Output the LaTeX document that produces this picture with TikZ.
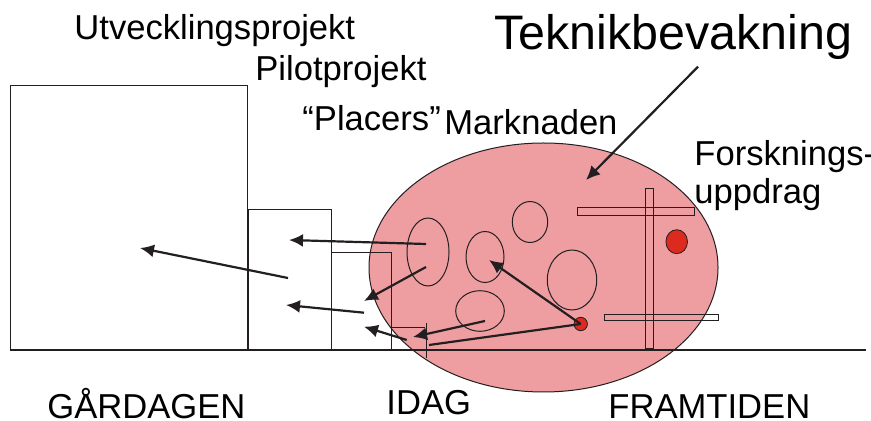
\documentclass[tikz,border=0pt]{standalone}
\usepackage{fontspec}
\setmainfont{Liberation Sans}
\usetikzlibrary{arrows.meta}
\definecolor{pinkfill}{HTML}{EE9EA1}
\definecolor{dotred}{HTML}{DC2A1E}
\definecolor{edge}{HTML}{231F20}
\tikzset{
  thin line/.style={draw=edge, line width=0.5pt},
  bar/.style={draw=edge, line width=0.5pt},
  arr/.style={draw=edge, line width=1.1pt, -{Latex[length=7pt,width=6.5pt]}},
  plain/.style={draw=edge, line width=1.1pt},
  lab/.style={inner sep=0pt, anchor=base west, font=\fontsize{17.3}{20}\selectfont},
  big/.style={inner sep=0pt, anchor=base west, font=\fontsize{24.2}{28}\selectfont},
}
\begin{document}
\begin{tikzpicture}[x=0.5pt,y=-0.5pt]
\useasboundingbox (0,0) rectangle (871,421);
% pink market ellipse
\path[fill=pinkfill, draw=edge, line width=0.5pt] (543.5,267.5) ellipse [x radius=174.5, y radius=124.5];
% boxes
\draw[thin line] (10,350) -- (10,86) -- (247,86) -- (247,350);
\draw[thin line] (248,350) -- (248,210) -- (331,210) -- (331,350);
\draw[thin line] (331.5,350) -- (331.5,253) -- (391,253) -- (391,350);
\draw[thin line] (391,328) -- (425,328);
\draw[thin line] (426,323) -- (426,358);
% baseline
\draw[draw=edge, line width=0.8pt] (10,350) -- (866,350);
% small ellipses
\draw[thin line] (428,252) ellipse [x radius=21, y radius=34];
\draw[thin line] (485,257) ellipse [x radius=19, y radius=25.5];
\draw[thin line] (530,222) ellipse [x radius=17.7, y radius=20.5];
\draw[thin line] (572,280) ellipse [x radius=24.7, y radius=30];
\draw[thin line] (480,311) ellipse [x radius=24.3, y radius=20.3];
% bars
\draw[bar] (577.3,207.7) rectangle (694.3,215.7);
\draw[bar] (604.3,315) rectangle (718.3,321);
\draw[bar] (645,188.3) rectangle (653.3,348.3);
% red dots
\path[fill=dotred, draw=edge, line width=0.4pt] (580.7,324) circle [radius=6.7];
\path[fill=dotred, draw=edge, line width=0.4pt] (676.7,241.7) ellipse [x radius=10.8, y radius=12];
% coordinates
\coordinate (a1s) at (288,278);  \coordinate (a1e) at (140,248);
\coordinate (a2s) at (426,244);  \coordinate (a2e) at (289,240);
\coordinate (a3s) at (426,267);  \coordinate (a3e) at (364,301);
\coordinate (a4s) at (364,312.7);\coordinate (a4e) at (286,305);
\coordinate (a5s) at (406.7,340);\coordinate (a5e) at (364,326.7);
\coordinate (a6s) at (485,321);  \coordinate (a6e) at (413,337);
\coordinate (dot) at (580.7,324);
\coordinate (l7e) at (429,345);
\coordinate (a8e) at (489,260);
\coordinate (tks) at (698,66.7); \coordinate (tke) at (586,180);
% arrows
\draw[arr] (a1s) -- (a1e);
\draw[arr] (a2s) -- (a2e);
\draw[arr] (a3s) -- (a3e);
\draw[arr] (a4s) -- (a4e);
\draw[arr] (a5s) -- (a5e);
\draw[arr] (a6s) -- (a6e);
\draw[plain] (dot) -- (l7e);
\draw[arr] (dot) -- (a8e);
\draw[arr] (tks) -- (tke);
% labels
\node[lab] (utv) at (74,40) {Utvecklingsprojekt};
\node[lab] (pil) at (255,81) {Pilotprojekt};
\node[lab] (pla) at (302,131) {“Placers”};
\node[lab] (mar) at (444,135) {Marknaden};
\node[big] (tek) at (494,50) {Teknikbevakning};
\node[lab] (for) at (694,165.7) {Forsknings-};
\node[lab] (upp) at (694,204) {uppdrag};
\node[lab] (gar) at (47,418) {GÅRDAGEN};
\node[lab] (ida) at (386,415) {IDAG};
\node[lab] (fra) at (608,418) {FRAMTIDEN};
\end{tikzpicture}
\end{document}
